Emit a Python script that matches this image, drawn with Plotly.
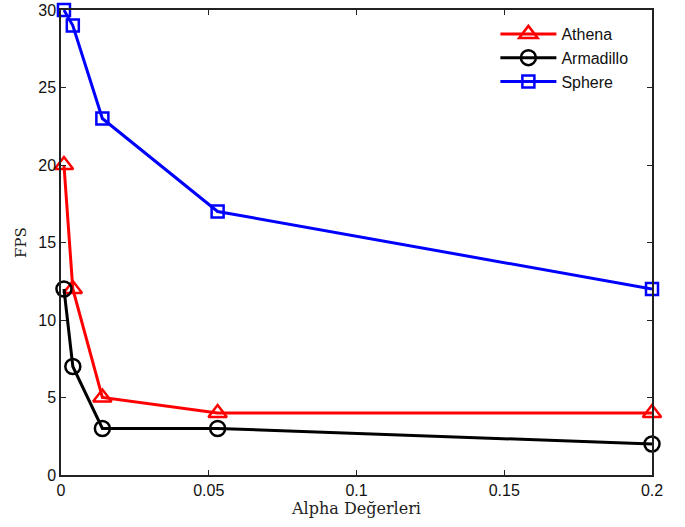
import plotly.graph_objects as go

alpha = [0.001, 0.004, 0.014, 0.053, 0.2]
athena = [20, 12, 5, 4, 4]
armadillo = [12, 7, 3, 3, 2]
sphere = [30, 29, 23, 17, 12]

x_ticks = [0, 0.05, 0.1, 0.15, 0.2]
x_ticklabels = ["0", "0.05", "0.1", "0.15", "0.2"]
y_ticks = [0, 5, 10, 15, 20, 25, 30]

fig = go.Figure()
fig.add_trace(go.Scatter(x=alpha, y=athena, name="Athena", mode="lines+markers",
                         line=dict(color="#ff0000", width=3),
                         marker=dict(symbol="triangle-up-open", size=16, color="#ff0000",
                                     line=dict(width=2.5, color="#ff0000")),
                         cliponaxis=False))
fig.add_trace(go.Scatter(x=alpha, y=armadillo, name="Armadillo", mode="lines+markers",
                         line=dict(color="#000000", width=3),
                         marker=dict(symbol="circle-open", size=15, color="#000000",
                                     line=dict(width=2.5, color="#000000")),
                         cliponaxis=False))
fig.add_trace(go.Scatter(x=alpha, y=sphere, name="Sphere", mode="lines+markers",
                         line=dict(color="#0000ff", width=3),
                         marker=dict(symbol="square-open", size=12, color="#0000ff",
                                     line=dict(width=2.5, color="#0000ff")),
                         cliponaxis=False))

axis_common = dict(showline=True, linecolor="#222", linewidth=1.5, mirror="ticks",
                   ticks="inside", ticklen=5, tickwidth=1, tickcolor="#222",
                   showgrid=False, zeroline=False, automargin=False,
                   tickfont=dict(family="Liberation Sans, Arial, sans-serif", size=16, color="#111"))

fig.update_xaxes(range=[0, 0.2], tickvals=x_ticks, ticktext=x_ticklabels,
                 title=dict(text="Alpha Değerleri", standoff=5,
                            font=dict(family="DejaVu Serif, serif", size=16, color="#222")),
                 **axis_common)
fig.update_yaxes(range=[0, 30], tickvals=y_ticks,
                 title=dict(text="FPS", standoff=8,
                            font=dict(family="DejaVu Serif, serif", size=15, color="#222")),
                 **axis_common)

fig.update_layout(
    width=685, height=527,
    margin=dict(l=61, r=33, t=10, b=52, autoexpand=False),
    plot_bgcolor="white", paper_bgcolor="white",
    legend=dict(x=0.735, y=0.985, xanchor="left", yanchor="top",
                bgcolor="rgba(0,0,0,0)", borderwidth=0,
                font=dict(family="Liberation Sans, Arial, sans-serif", size=16, color="#111"),
                itemwidth=56, tracegroupgap=0),
)

fig.write_html("out.html")
